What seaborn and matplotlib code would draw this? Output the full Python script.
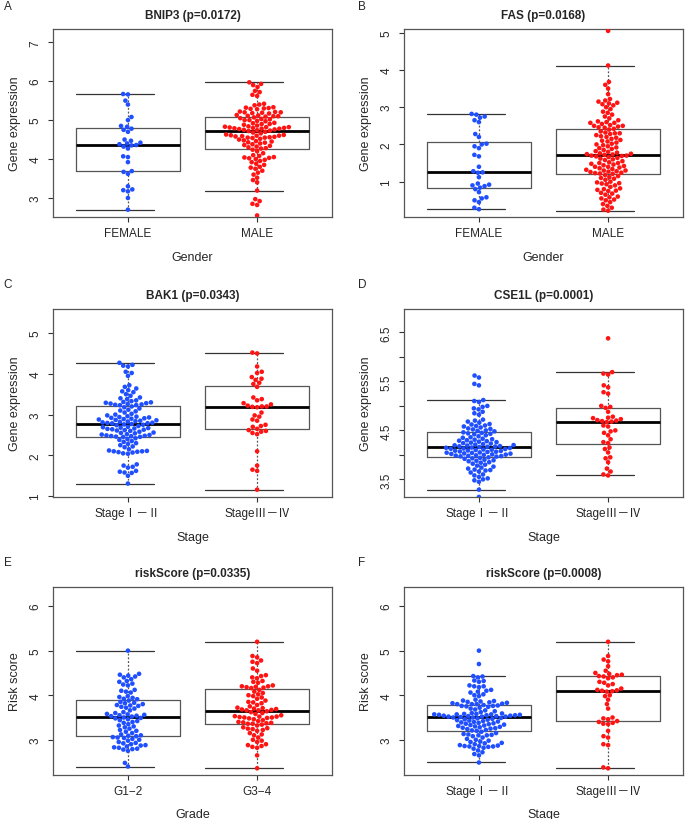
import matplotlib
matplotlib.use("Agg")
import matplotlib.pyplot as plt
import seaborn as sns
import pandas as pd

# colours used by the original R plot
BLUE = "#1f4fff"
RED = "#ff1414"
EDGE = "#555555"

# ---- data ----
gender_cats = ["FEMALE", "MALE"]
stage_cats = ["StageⅠ－Ⅱ", "StageⅢ－Ⅳ"]
grade_cats = ["G1\u22122", "G3\u22124"]

bnip3_female = [5.67, 5.66, 5.5, 5.4, 5.08, 5.0, 4.85, 4.83, 4.78, 4.75, 4.7, 4.5,
                4.47, 4.42, 4.4, 4.38,
                4.36, 4.35, 4.32, 4.27, 4.07, 4.05, 3.92, 3.69, 3.67, 3.62, 3.3,
                3.22, 3.2, 3.17, 3.0, 2.7]
bnip3_male = [5.97, 5.93, 5.9, 5.85, 5.75, 5.72, 5.65, 5.62, 5.42, 5.4, 5.38, 5.33,
              5.32, 5.31, 5.3, 5.29, 5.28, 5.22, 5.21, 5.2, 5.2, 5.19, 5.18, 5.17,
              5.13, 5.12, 5.11, 5.1, 5.1, 5.09,
              5.07, 5.05, 5.03, 5.02, 5.0, 5.0, 4.98, 4.97, 4.93, 4.92, 4.9, 4.9,
              4.88, 4.86, 4.84, 4.83, 4.82, 4.82, 4.81, 4.8, 4.8, 4.79, 4.78, 4.78,
              4.77, 4.76, 4.75, 4.74, 4.73, 4.72,
              4.7, 4.68, 4.66, 4.63, 4.62, 4.61, 4.6, 4.6, 4.59, 4.58, 4.57, 4.56,
              4.55, 4.55, 4.54, 4.52, 4.5, 4.48, 4.46, 4.45, 4.43, 4.42, 4.4, 4.38,
              4.36, 4.34, 4.32, 4.3, 4.28, 4.27,
              4.24, 4.2, 4.15, 4.1, 4.08, 4.05, 4.04, 4.03, 4.02, 4.0, 3.98, 3.95,
              3.92, 3.88, 3.85, 3.8, 3.78, 3.75, 3.7, 3.65, 3.6, 3.52, 3.46, 3.4,
              3.19, 2.97, 2.92, 2.85, 2.82, 2.55]

fas_female = [2.82, 2.8, 2.75, 2.72, 2.65, 2.6, 2.28, 2.2, 2.02, 2.0, 1.95, 1.9,
              1.72, 1.68, 1.4, 1.28,
              1.25, 1.24, 1.12, 0.95, 0.92, 0.9, 0.88, 0.84, 0.8, 0.72, 0.58,
              0.55, 0.5, 0.45, 0.3, 0.26]
fas_male = [5.05, 4.12, 3.68, 3.6, 3.5, 3.35, 3.22, 3.18, 3.15, 3.12, 3.1, 3.08,
            3.05, 3.0, 2.95, 2.88, 2.85, 2.8, 2.75, 2.7, 2.65, 2.62, 2.6, 2.58,
            2.58, 2.55, 2.52, 2.5, 2.5, 2.48, 2.46, 2.45,
            2.42, 2.4, 2.35, 2.32, 2.3, 2.3, 2.28, 2.25, 2.22, 2.2, 2.18, 2.15,
            2.12, 2.1, 2.08, 2.05, 2.02, 2.0, 1.98, 1.95, 1.92, 1.9, 1.88, 1.85,
            1.82, 1.8, 1.78, 1.76, 1.75, 1.74, 1.73, 1.72,
            1.7, 1.7, 1.69, 1.68, 1.66, 1.64, 1.62, 1.6, 1.58, 1.55, 1.52, 1.5,
            1.5, 1.48, 1.46, 1.44, 1.42, 1.4, 1.4, 1.38, 1.36, 1.34, 1.32, 1.3,
            1.3, 1.28, 1.27, 1.26, 1.24, 1.23, 1.22, 1.21,
            1.18, 1.15, 1.12, 1.1, 1.08, 1.05, 1.0, 0.98, 0.96, 0.95, 0.93, 0.9,
            0.86, 0.82, 0.8, 0.78, 0.76, 0.75, 0.7, 0.68, 0.65, 0.6, 0.58, 0.55,
            0.52, 0.5, 0.45, 0.4, 0.35, 0.3, 0.25, 0.22]

bak1_early = [4.27, 4.22, 4.2, 4.18, 4.05, 4.02, 3.95, 3.72, 3.68, 3.64, 3.6, 3.57,
              3.55, 3.5, 3.46, 3.42, 3.4, 3.38, 3.35, 3.33, 3.31, 3.3, 3.29, 3.28,
              3.27, 3.26, 3.25, 3.24, 3.235, 3.23,
              3.2, 3.18, 3.15, 3.12, 3.1, 3.08, 3.05, 3.02, 3.0, 2.98, 2.96, 2.95,
              2.94, 2.93, 2.92, 2.91, 2.9, 2.89, 2.88, 2.87, 2.86, 2.85, 2.84, 2.83,
              2.82, 2.81, 2.8, 2.795, 2.79, 2.785,
              2.77, 2.76, 2.75, 2.74, 2.72, 2.7, 2.69, 2.68, 2.67, 2.66, 2.65, 2.64,
              2.63, 2.62, 2.61, 2.6, 2.58, 2.56, 2.55, 2.54, 2.52, 2.51, 2.5, 2.49,
              2.48, 2.475, 2.47, 2.46, 2.455, 2.45,
              2.42, 2.4, 2.38, 2.35, 2.33, 2.3, 2.28, 2.25, 2.22, 2.2, 2.15, 2.12,
              2.11, 2.1, 2.1, 2.09, 2.08, 2.07, 2.05, 2.04, 1.78, 1.75, 1.72, 1.7,
              1.62, 1.6, 1.58, 1.57, 1.5, 1.31]
bak1_late = [4.52, 4.5, 4.18, 4.05, 4.02, 3.92, 3.88, 3.85, 3.78, 3.75,
             3.68, 3.42, 3.38, 3.35, 3.28, 3.25, 3.22, 3.2, 3.2, 3.19,
             3.18, 3.05, 2.98, 2.95, 2.88, 2.85, 2.75, 2.72, 2.7, 2.65,
             2.62, 2.6, 2.58, 2.55, 2.52, 2.1, 1.75, 1.65, 1.62, 1.16]

cse1l_early = [5.62, 5.58, 5.45, 5.42, 5.12, 5.1, 5.08, 5.0, 4.98, 4.95, 4.93, 4.88,
               4.85, 4.82, 4.72, 4.7, 4.68, 4.66, 4.63, 4.62, 4.6, 4.59, 4.58, 4.56,
               4.54, 4.53, 4.52, 4.5, 4.49, 4.48,
               4.46, 4.45, 4.44, 4.43, 4.42, 4.4, 4.38, 4.36, 4.35, 4.33, 4.32, 4.31,
               4.3, 4.29, 4.28, 4.27, 4.26, 4.25, 4.24, 4.23, 4.22, 4.21, 4.2, 4.195,
               4.19, 4.18, 4.175, 4.17, 4.165, 4.16,
               4.15, 4.145, 4.14, 4.13, 4.125, 4.12, 4.11, 4.105, 4.1, 4.09, 4.085,
               4.08, 4.07, 4.065, 4.06, 4.05, 4.045, 4.04, 4.03, 4.025, 4.02, 4.01,
               4.005, 4.0, 3.99, 3.985, 3.98, 3.975, 3.97, 3.965,
               3.95, 3.94, 3.93, 3.92, 3.9, 3.89, 3.88, 3.87, 3.85, 3.84, 3.82, 3.8,
               3.78, 3.76, 3.74, 3.72, 3.7, 3.69, 3.68, 3.66, 3.64, 3.6, 3.58, 3.55,
               3.52, 3.5, 3.48, 3.45, 3.29, 3.14]
cse1l_late = [6.38, 5.69, 5.66, 5.64, 5.42, 5.38, 5.28, 5.25, 5.0, 4.98,
              4.96, 4.88, 4.78, 4.76, 4.75, 4.73, 4.71, 4.7, 4.69, 4.68,
              4.67, 4.6, 4.58, 4.5, 4.48, 4.45, 4.4, 4.32, 4.26, 4.24,
              4.15, 4.12, 4.05, 3.95, 3.93, 3.85, 3.72, 3.66, 3.6, 3.58]

risk_g12 = [5.0, 4.48, 4.46, 4.44, 4.42, 4.4, 4.36, 4.32, 4.3, 4.26, 4.24, 4.22,
            4.12, 4.1, 4.08, 4.06, 3.98, 3.96, 3.94, 3.92, 3.91,
            3.88, 3.85, 3.83, 3.82, 3.8, 3.78, 3.77, 3.76, 3.74, 3.72, 3.7, 3.66,
            3.62, 3.6, 3.58, 3.57, 3.56, 3.55, 3.54, 3.53, 3.52,
            3.5, 3.49, 3.48, 3.46, 3.44, 3.42, 3.4, 3.38, 3.35, 3.32, 3.3, 3.28,
            3.25, 3.22, 3.2, 3.18, 3.15, 3.12, 3.1, 3.09, 3.08,
            3.06, 3.05, 3.04, 3.02, 3.0, 2.98, 2.95, 2.93, 2.92, 2.9, 2.88, 2.87,
            2.85, 2.83, 2.82, 2.8, 2.79, 2.78, 2.75, 2.48, 2.4]
risk_g34 = [5.2, 4.88, 4.85, 4.78, 4.75, 4.72, 4.6, 4.55, 4.45, 4.43, 4.4, 4.38,
            4.32, 4.3, 4.28, 4.22, 4.2, 4.2, 4.19, 4.18, 4.17, 4.16,
            4.12, 4.08, 4.05, 4.02, 4.0, 3.98, 3.95, 3.92, 3.88, 3.85, 3.84, 3.82,
            3.78, 3.75, 3.72, 3.71, 3.7, 3.69, 3.68, 3.67, 3.66, 3.66,
            3.64, 3.62, 3.6, 3.58, 3.55, 3.53, 3.52, 3.52, 3.51, 3.5, 3.5, 3.49,
            3.48, 3.46, 3.44, 3.42, 3.4, 3.39, 3.38, 3.37, 3.36, 3.36,
            3.34, 3.32, 3.28, 3.26, 3.25, 3.24, 3.22, 3.2, 3.15, 3.12, 3.1, 3.05,
            3.0, 2.98, 2.95, 2.9, 2.88, 2.86, 2.84, 2.82, 2.65, 2.36]

risk_early = [5.0, 4.7, 4.43, 4.42, 4.4, 4.33, 4.32, 4.3, 4.22, 4.2, 4.2, 4.18,
              4.12, 4.1, 4.08, 4.06, 4.02, 4.0, 3.98, 3.9, 3.88, 3.87, 3.86, 3.85,
              3.84, 3.83, 3.82, 3.81, 3.8, 3.8, 3.8,
              3.78, 3.77, 3.76, 3.76, 3.75, 3.74, 3.72, 3.7, 3.68, 3.66, 3.64, 3.62,
              3.6, 3.59, 3.58, 3.58, 3.57, 3.57, 3.57, 3.56, 3.56, 3.55, 3.55, 3.54,
              3.54, 3.53, 3.53, 3.52, 3.52, 3.52, 3.51,
              3.5, 3.5, 3.49, 3.48, 3.47, 3.46, 3.45, 3.44, 3.43, 3.42, 3.41, 3.4,
              3.39, 3.38, 3.37, 3.36, 3.35, 3.34, 3.33, 3.32, 3.31, 3.3, 3.29, 3.28,
              3.27, 3.26, 3.25, 3.24, 3.22, 3.21, 3.2,
              3.18, 3.15, 3.13, 3.12, 3.11, 3.1, 3.1, 3.08, 3.05, 3.02, 3.0, 2.98,
              2.96, 2.95, 2.93, 2.92, 2.9, 2.88, 2.87, 2.86, 2.86, 2.85, 2.85, 2.84,
              2.82, 2.8, 2.76, 2.72, 2.68, 2.65, 2.49]
risk_late = [5.2, 4.88, 4.8, 4.76, 4.65, 4.55, 4.5, 4.48, 4.46, 4.45, 4.43,
             4.42, 4.4, 4.38, 4.3, 4.28, 4.25, 4.22, 4.15, 4.12, 4.11, 4.1,
             4.09, 4.08, 4.0, 3.98, 3.9, 3.8, 3.7, 3.5, 3.48, 3.46, 3.42,
             3.4, 3.38, 3.36, 3.35, 3.2, 3.08, 3.05, 2.9, 2.88, 2.38, 2.36]

# letter, title, xlabel, ylabel, categories, group 1, group 2, ylim, yticks, tick labels
panels = [
    ("A", "BNIP3 (p=0.0172)", "Gender", "Gene expression", gender_cats,
     bnip3_female, bnip3_male, (2.51, 7.34), [3, 4, 5, 6, 7], None),
    ("B", "FAS (p=0.0168)", "Gender", "Gene expression", gender_cats,
     fas_female, fas_male, (0.05, 5.1), [1, 2, 3, 4, 5], None),
    ("C", "BAK1 (p=0.0343)", "Stage", "Gene expression", stage_cats,
     bak1_early, bak1_late, (0.98, 5.59), [1, 2, 3, 4, 5], None),
    ("D", "CSE1L (p=0.0001)", "Stage", "Gene expression", stage_cats,
     cse1l_early, cse1l_late, (3.14, 6.98), [3.5, 4, 4.5, 5, 5.5, 6, 6.5],
     ["3.5", "", "4.5", "", "5.5", "", "6.5"]),
    ("E", "riskScore (p=0.0335)", "Grade", "Risk score", grade_cats,
     risk_g12, risk_g34, (2.21, 6.43), [3, 4, 5, 6], None),
    ("F", "riskScore (p=0.0008)", "Stage", "Risk score", stage_cats,
     risk_early, risk_late, (2.21, 6.43), [3, 4, 5, 6], None),
]

sns.set_style("white")
plt.rcParams["font.family"] = ["Liberation Sans", "Noto Sans CJK JP", "DejaVu Sans"]

fig = plt.figure(figsize=(6.85, 8.2), dpi=100)
lefts = [0.0774, 0.5898]
bottoms = [0.7341, 0.3927, 0.0537]
W, H = 0.4073, 0.2293

for i, (letter, title, xlab, ylab, cats, g1, g2, ylim, yt, ytl) in enumerate(panels):
    left = lefts[i % 2]
    bottom = bottoms[i // 2]
    ax = fig.add_axes([left, bottom, W, H])

    df = pd.DataFrame({"group": [cats[0]] * len(g1) + [cats[1]] * len(g2),
                       "value": g1 + g2})

    sns.boxplot(data=df, x="group", y="value", order=cats, width=0.8,
                showfliers=False, fill=False, color=EDGE, linewidth=0.9,
                whiskerprops=dict(linestyle=(0, (1.5, 1.5)), color=EDGE),
                capprops=dict(color="#333333", gid="cap"),
                medianprops=dict(color="black", linewidth=2.0),
                ax=ax)
    # R draws the whisker staples starting at the left edge of the box
    for ln in ax.lines:
        if ln.get_gid() == "cap":
            xs = ln.get_xdata()
            c = (xs[0] + xs[1]) / 2
            ln.set_xdata([c - 0.4, c + 0.2])

    sns.swarmplot(data=df, x="group", y="value", order=cats, hue="group",
                  hue_order=cats, palette=[BLUE, RED], size=3.3,
                  legend=False, ax=ax, zorder=3)

    ax.set_xlim(-0.58, 1.58)
    ax.set_ylim(*ylim)
    ax.set_yticks(yt)
    ax.set_yticklabels(ytl if ytl else [str(v) for v in yt],
                       rotation=90, va="center")
    ax.set_title(title, fontweight="bold", fontsize=8.5, pad=8)
    ax.set_xlabel(xlab, fontsize=9, labelpad=8)
    ax.set_ylabel(ylab, fontsize=9, labelpad=6)
    ax.tick_params(axis="both", length=3.5, width=0.8, color="#333333",
                   labelsize=8.5, bottom=True, left=True)
    ax.tick_params(axis="x", pad=4)
    ax.tick_params(axis="y", pad=5)
    for s in ax.spines.values():
        s.set_color(EDGE)
        s.set_linewidth(0.9)

    fig.text(left - 0.072 if i % 2 == 0 else left - 0.067,
             bottom + H + (0.028 if i < 2 else 0.03), letter,
             fontsize=8.5, ha="left", va="center")

fig.savefig("out.png", dpi=100)
